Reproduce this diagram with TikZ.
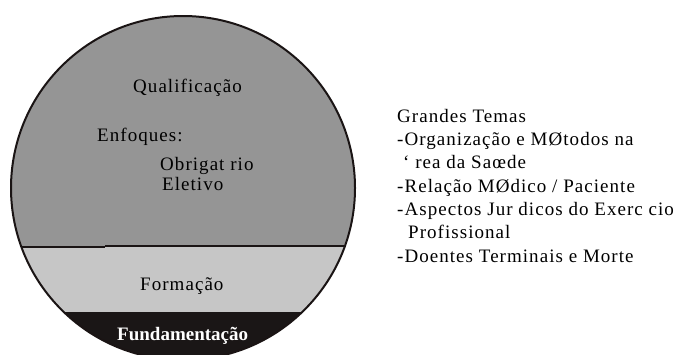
\documentclass[tikz,border=0pt]{standalone}
\usepackage{fontspec}
\setmainfont{Liberation Serif}[LetterSpace=5.5]
\newfontfamily\fundfont{Liberation Serif}[BoldFont={* Bold}]
\definecolor{upgray}{HTML}{959595}
\definecolor{lowgray}{HTML}{C6C6C6}
\definecolor{darkfill}{HTML}{1A1616}
\definecolor{edge}{HTML}{1A1414}
\tikzset{
  txt/.style={inner sep=0pt, anchor=base west, text=black, font=\fontsize{19}{23}\selectfont},
  fundtxt/.style={inner sep=0pt, anchor=base west, text=white, font=\fundfont\bfseries\fontsize{19}{23}\selectfont},
}
\begin{document}
\begin{tikzpicture}[x=1pt,y=-1pt]
\useasboundingbox (0,0) rectangle (676,354);
\coordinate (c) at (183,188);
\begin{scope}
  \clip (c) circle [radius=172pt];
  \fill[upgray] (0,0) rectangle (676,246);
  \fill[lowgray] (0,246) rectangle (676,312);
  \fill[darkfill] (0,312) rectangle (676,400);
\end{scope}
\begin{scope}
  \clip (c) circle [radius=172pt];
  \coordinate (l1) at (0,247.2);
  \coordinate (lm) at (105,247.2);
  \coordinate (ln) at (105,246);
  \coordinate (l2) at (400,246);
  \draw[edge, line width=2pt] (l1) -- (lm);
  \draw[edge, line width=2pt] (ln) -- (l2);
\end{scope}
\draw[edge, line width=2pt] (c) circle [radius=172pt];

\node[txt] (qual) at (133,92.5) {Qualificação};
\node[txt] (enf) at (97,141.5) {Enfoques:};
\node[txt] (obr) at (160,170) {Obrigat rio};
\node[txt] (ele) at (162,190) {Eletivo};
\node[txt] (form) at (140,290) {Formação};
\node[fundtxt] (fund) at (117,340) {Fundamentação};

\node[txt] (t0) at (397,122) {Grandes Temas};
\node[txt] (t1) at (397,145.5) {-Organização e MØtodos na};
\node[txt] (t2) at (403,168.5) {\symbol{96} rea da Saœde};
\node[txt] (t3) at (397,192) {-Relação MØdico / Paciente};
\node[txt] (t4) at (397,215) {-Aspectos Jur dicos do Exerc cio};
\node[txt] (t5) at (408,238.5) {Profissional};
\node[txt] (t6) at (397,262) {-Doentes Terminais e Morte};
\end{tikzpicture}
\end{document}
